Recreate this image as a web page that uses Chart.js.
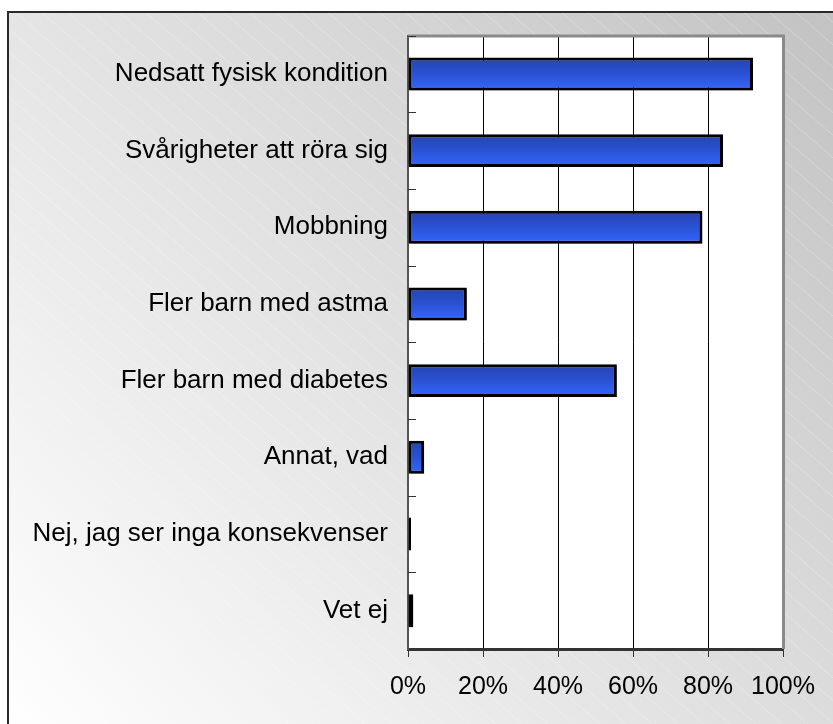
<!DOCTYPE html>
<html>
<head>
<meta charset="utf-8">
<script src="https://cdn.jsdelivr.net/npm/chart.js@4"></script>
<style>
  html, body { margin: 0; padding: 0; background: #fff; }
  canvas { display: block; }
</style>
</head>
<body>
<canvas id="c" width="833" height="724"></canvas>
<script>
const categories = [
  "Nedsatt fysisk kondition",
  "Svårigheter att röra sig",
  "Mobbning",
  "Fler barn med astma",
  "Fler barn med diabetes",
  "Annat, vad",
  "Nej, jag ser inga konsekvenser",
  "Vet ej"
];
const values = [92, 84, 78.5, 15.7, 55.7, 4.3, 0.8, 1.4];
const xTicks = [0, 20, 40, 60, 80, 100];

const FONT = "'Liberation Sans', Arial, sans-serif";

const backgroundPlugin = {
  id: 'bg',
  beforeDraw(chart) {
    const ctx = chart.ctx;
    const W = chart.width, H = chart.height;
    const fx = 8, fy = 12;
    ctx.save();
    ctx.fillStyle = '#ffffff';
    ctx.fillRect(0, 0, W, H);
    const g = ctx.createLinearGradient(W, 0, 0, H);
    g.addColorStop(0, '#c2c2c2');
    g.addColorStop(1, '#ffffff');
    ctx.fillStyle = g;
    ctx.fillRect(fx, fy, W - fx, H - fy);
    // diagonal hatching
    ctx.beginPath();
    ctx.rect(fx, fy, W - fx, H - fy);
    ctx.clip();
    ctx.strokeStyle = 'rgba(255,255,255,0.25)';
    ctx.lineWidth = 1;
    for (let s = -H * 1.2; s < W + 50; s += 26) {
      ctx.beginPath();
      ctx.moveTo(s, fy);
      ctx.lineTo(s + (H - fy) * 1.15, H);
      ctx.stroke();
    }
    ctx.restore();
    // frame
    ctx.save();
    ctx.strokeStyle = '#2a2a2a';
    ctx.lineWidth = 2;
    ctx.beginPath();
    ctx.moveTo(fx, H);
    ctx.lineTo(fx, fy);
    ctx.lineTo(W, fy);
    ctx.stroke();
    ctx.restore();
    // plot area
    const a = chart.chartArea;
    if (a) {
      ctx.save();
      ctx.fillStyle = '#ffffff';
      ctx.fillRect(a.left, a.top, a.right - a.left, a.bottom - a.top);
      ctx.restore();
    }
  },
  beforeDatasetsDraw(chart) {
    const ctx = chart.ctx;
    const a = chart.chartArea;
    ctx.save();
    ctx.strokeStyle = '#8a8a8a';
    ctx.lineWidth = 3;
    ctx.beginPath();
    ctx.moveTo(a.left, a.top + 0.5);
    ctx.lineTo(a.right + 0.5, a.top + 0.5);
    ctx.lineTo(a.right + 0.5, a.bottom);
    ctx.stroke();
    // inner tick marks on category axis at band boundaries
    const y = chart.scales.y;
    ctx.strokeStyle = '#333';
    ctx.lineWidth = 1;
    for (let i = 0; i < categories.length; i++) {
      let py;
      if (i === 0) py = a.top;
      else py = (y.getPixelForValue(i - 1) + y.getPixelForValue(i)) / 2;
      ctx.beginPath();
      ctx.moveTo(a.left, Math.round(py) + 0.5);
      ctx.lineTo(a.left + 8, Math.round(py) + 0.5);
      ctx.stroke();
    }
    ctx.restore();
    ctx.save();
    ctx.shadowColor = 'rgba(0,0,0,0.28)';
    ctx.shadowOffsetX = 2;
    ctx.shadowOffsetY = 2;
    ctx.shadowBlur = 1;
  },
  afterDatasetsDraw(chart) {
    chart.ctx.restore();
  }
};

function barGradient(context) {
  const chart = context.chart;
  const a = chart.chartArea;
  if (!a) return '#2f5ae8';
  const y = chart.scales.y;
  const cy = y.getPixelForValue(context.dataIndex);
  const half = 16;
  const g = chart.ctx.createLinearGradient(0, cy - half, 0, cy + half);
  g.addColorStop(0, '#2644b0');
  g.addColorStop(0.45, '#2a50cf');
  g.addColorStop(1, '#3366ff');
  return g;
}

new Chart(document.getElementById('c'), {
  type: 'bar',
  data: {
    labels: categories,
    datasets: [{
      data: values,
      backgroundColor: barGradient,
      borderColor: '#000000',
      borderWidth: 3,
      borderSkipped: false,
      barPercentage: 0.43,
      categoryPercentage: 1.0
    }]
  },
  options: {
    indexAxis: 'y',
    responsive: false,
    animation: false,
    devicePixelRatio: 1,
    layout: { padding: { top: 29, right: 50, left: 0, bottom: 0 } },
    plugins: {
      legend: { display: false },
      tooltip: { enabled: false }
    },
    scales: {
      x: {
        min: 0,
        max: 100,
        afterFit(scale) { scale.height = 75; },
        afterBuildTicks(scale) { scale.ticks = xTicks.map(v => ({ value: v })); },
        ticks: {
          stepSize: 20,
          padding: 15,
          color: '#000',
          font: { family: FONT, size: 25 },
          callback: v => v + '%',
          maxRotation: 0
        },
        grid: {
          color: '#000',
          lineWidth: 1,
          tickLength: 8,
          tickColor: '#333',
          drawTicks: true
        },
        border: { display: true, color: '#333', width: 3 }
      },
      y: {
        afterFit(scale) { scale.width = 408; },
        ticks: {
          padding: 20,
          color: '#000',
          font: { family: FONT, size: 26 }
        },
        grid: { display: false, drawTicks: false },
        border: { display: true, color: '#555', width: 2 }
      }
    }
  },
  plugins: [backgroundPlugin]
});
</script>
</body>
</html>
